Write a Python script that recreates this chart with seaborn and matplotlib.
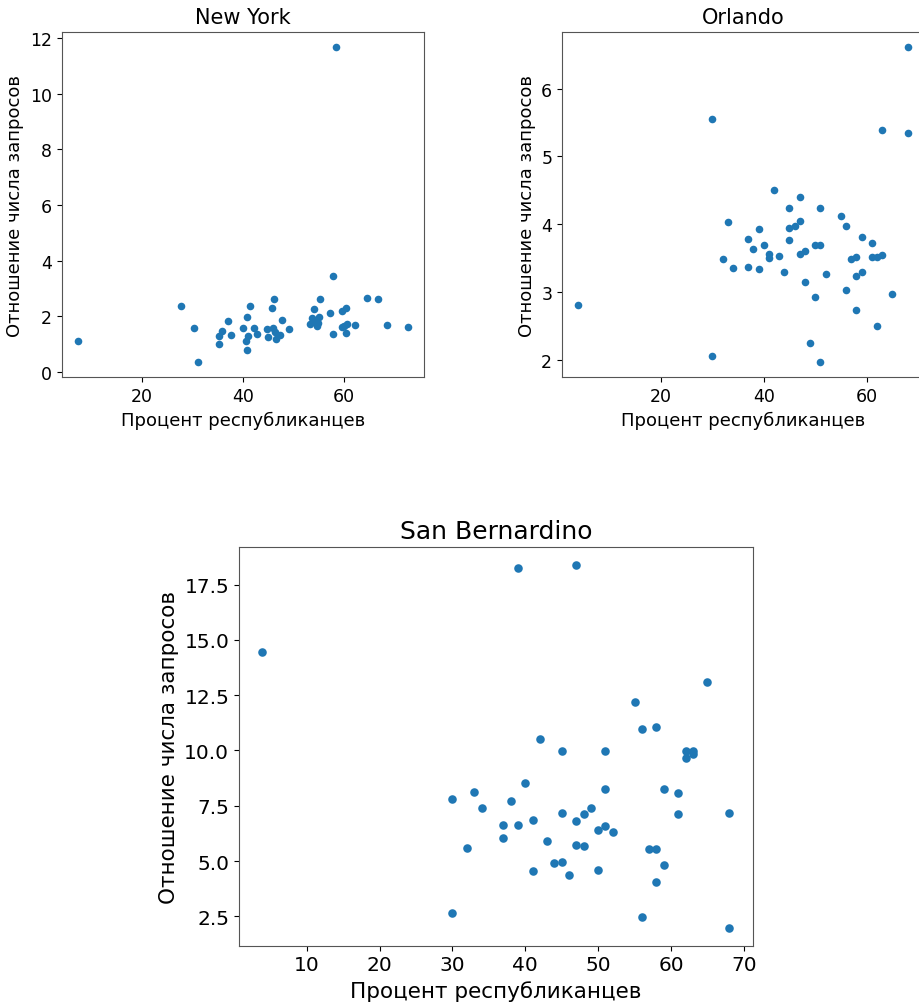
import numpy as np
import pandas as pd
import matplotlib
matplotlib.use('Agg')
import matplotlib.pyplot as plt
import seaborn as sns

# values
ny_rep = [7.3, 27.8, 30.4, 31.0, 35.3, 35.3, 35.9, 37.1, 37.6, 40.0, 40.8, 40.6, 40.8, 41.0,
          41.4, 42.2, 42.8, 44.7, 45.0, 45.7, 46.1, 45.9, 46.4, 46.5, 47.3, 47.8, 49.2, 53.3,
          53.7, 54.2, 54.4, 54.7, 55.2, 55.4, 54.9, 57.3, 57.95, 57.8, 58.4, 59.7, 60.5, 59.7,
          60.1, 60.6, 60.5, 62.3, 64.7, 66.8, 68.7, 72.7]
ny_ratio = [1.13, 2.38, 1.60, 0.38, 1.31, 1.02, 1.48, 1.84, 1.34, 1.60, 1.97, 1.12, 0.79, 1.31,
            2.38, 1.60, 1.37, 1.55, 1.25, 2.29, 2.62, 1.58, 1.46, 1.19, 1.34, 1.87, 1.55, 1.73,
            1.94, 2.27, 1.82, 1.66, 1.97, 2.64, 1.78, 2.11, 3.45, 1.36, 11.66, 2.20, 2.32, 1.61,
            1.67, 1.72, 1.40, 1.69, 2.68, 2.64, 1.69, 1.64]

orl_rep = [4, 30, 30, 32, 33, 34, 37, 37, 38, 39, 39, 40, 41, 41, 42, 43, 44, 45, 45, 45, 46,
           47, 47, 47, 48, 48, 49, 50, 50, 51, 51, 51, 52, 55, 56, 56, 57, 58, 58, 58, 59, 59,
           61, 61, 62, 62, 63, 63, 65, 68, 68]
orl_ratio = [2.80, 5.56, 2.05, 3.49, 4.03, 3.35, 3.78, 3.37, 3.63, 3.93, 3.34, 3.69, 3.56, 3.50,
             4.50, 3.53, 3.29, 4.24, 3.95, 3.77, 3.97, 4.40, 4.05, 3.56, 3.61, 3.15, 2.25, 3.69,
             2.93, 4.24, 3.69, 1.97, 3.27, 4.12, 3.97, 3.03, 3.49, 3.52, 3.24, 2.73, 3.81, 3.30,
             3.72, 3.52, 3.52, 2.49, 3.55, 5.39, 2.97, 6.61, 5.34]

sb_rep = [3.9, 39, 47, 65, 55, 56, 58, 42, 45, 51, 62, 63, 62, 63, 40, 51, 59, 61, 33, 30, 38,
          34, 49, 45, 48, 61, 68, 47, 41, 37, 39, 51, 50, 52, 37, 43, 32, 47, 48, 57, 58, 44,
          45, 41, 46, 50, 59, 58, 30, 56, 68]
sb_ratio = [14.43, 18.27, 18.40, 13.09, 12.17, 10.98, 11.04, 10.51, 9.97, 9.97, 9.97, 9.97, 9.67,
            9.82, 8.51, 8.27, 8.27, 8.07, 8.12, 7.82, 7.70, 7.39, 7.42, 7.15, 7.11, 7.11, 7.15,
            6.81, 6.84, 6.61, 6.61, 6.58, 6.39, 6.31, 6.02, 5.89, 5.60, 5.72, 5.68, 5.56, 5.56,
            4.92, 4.95, 4.53, 4.37, 4.61, 4.80, 4.07, 2.64, 2.45, 1.99]

cities = ['New York', 'Orlando', 'San Bernardino']
xlabel = 'Процент республиканцев'
ylabel = 'Отношение числа запросов'

fig = plt.figure(figsize=(9.19, 10.03), dpi=100)

ax1 = fig.add_axes([0.0671, 0.6228, 0.3943, 0.3446])
ax2 = fig.add_axes([0.6115, 0.6228, 0.3943, 0.3446])
ax3 = fig.add_axes([0.260, 0.0561, 0.559, 0.398])

# axes, x, y, marker size, title size, tick size, label size
panels = [
    (ax1, ny_rep, ny_ratio, 30, 15, 12.5, 13),
    (ax2, orl_rep, orl_ratio, 30, 15, 12.5, 13),
    (ax3, sb_rep, sb_ratio, 38, 18, 14.5, 15.5),
]

for (ax, xs, ys, size, tsize, ksize, lsize), city in zip(panels, cities):
    df = pd.DataFrame({'rep': xs, 'ratio': ys})
    sns.scatterplot(data=df, x='rep', y='ratio', ax=ax, s=size, color='#1f77b4', linewidth=0)
    ax.set_title(city, fontsize=tsize)
    ax.set_xlabel(xlabel, fontsize=lsize)
    ax.set_ylabel(ylabel, fontsize=lsize)
    ax.tick_params(labelsize=ksize)
    for sp in ax.spines.values():
        sp.set_color('#555555')

fig.savefig('out.png', dpi=100)
